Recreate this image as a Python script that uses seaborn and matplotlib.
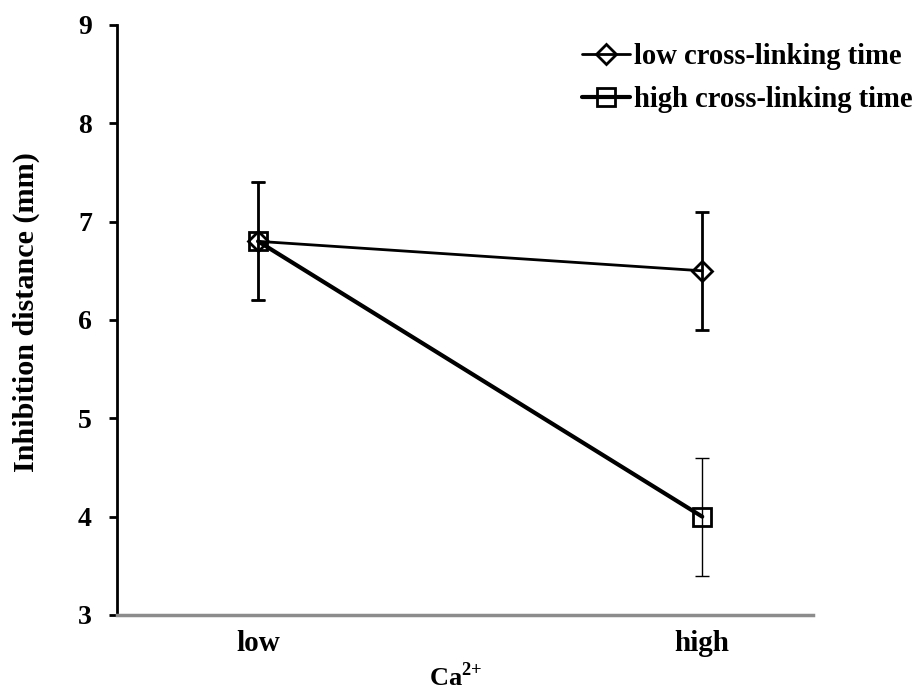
import matplotlib
matplotlib.use("Agg")
import matplotlib.pyplot as plt
import seaborn as sns
import pandas as pd

# Ca2+ levels on the x axis
ca_levels = ["low", "high"]

# Mean inhibition distance (mm) and error for each cross-linking time
low_time_mean = [6.8, 6.5]
low_time_err = [0.6, 0.6]
high_time_mean = [6.8, 4.0]
high_time_err = [0.6, 0.6]

series_names = ["low cross-linking time", "high cross-linking time"]

rows = []
for name, means, errs in [(series_names[0], low_time_mean, low_time_err),
                          (series_names[1], high_time_mean, high_time_err)]:
    for i, (lvl, m, e) in enumerate(zip(ca_levels, means, errs)):
        rows.append({"series": name, "Ca": lvl, "pos": i, "mean": m, "err": e})
df = pd.DataFrame(rows)

sns.set_theme(style="white")
plt.rcParams["font.family"] = ["Liberation Serif", "DejaVu Serif"]
plt.rcParams["font.weight"] = "bold"
plt.rcParams["text.color"] = "black"
plt.rcParams["axes.labelcolor"] = "black"
plt.rcParams["xtick.color"] = "black"
plt.rcParams["ytick.color"] = "black"
plt.rcParams["mathtext.fontset"] = "custom"
plt.rcParams["mathtext.rm"] = "Liberation Serif:bold"
plt.rcParams["mathtext.bf"] = "Liberation Serif:bold"

fig = plt.figure(figsize=(9.2, 6.9), dpi=100)
ax = fig.add_axes([0.127, 0.1087, 0.757, 0.8551])

styles = {
    series_names[0]: dict(marker="D", ms=10, lw=2.0, elw=2.0),
    series_names[1]: dict(marker="s", ms=13, lw=3.0, elw=1.0),
}

for name in series_names:
    sub = df[df["series"] == name]
    st = styles[name]
    ax.errorbar(sub["pos"], sub["mean"], yerr=sub["err"], fmt="none",
                ecolor="black", elinewidth=st["elw"], capsize=5,
                capthick=st["elw"], zorder=2)
    sns.lineplot(data=sub, x="pos", y="mean", ax=ax, color="black",
                 lw=st["lw"], marker=st["marker"], markersize=st["ms"],
                 markerfacecolor="none", markeredgecolor="black",
                 markeredgewidth=2.0, label=name, zorder=3)

ax.set_xlim(-0.318, 1.25)
ax.set_ylim(3, 9)
ax.set_yticks(range(3, 10))
ax.set_xticks(range(len(ca_levels)))
ax.set_xticklabels(ca_levels)

for s in ["top", "right"]:
    ax.spines[s].set_visible(False)
ax.spines["left"].set_color("black")
ax.spines["left"].set_linewidth(2.0)
ax.spines["bottom"].set_color("#8c8c8c")
ax.spines["bottom"].set_linewidth(2.5)

ax.tick_params(axis="y", which="major", direction="out", length=6, width=2,
               color="black", labelsize=20, pad=12, left=True)
ax.tick_params(axis="x", which="major", length=0, labelsize=21, pad=11)
for lab in ax.get_xticklabels() + ax.get_yticklabels():
    lab.set_fontweight("bold")

ax.set_xlabel(r"Ca$^{\mathbf{2}{\mathbf{+}}}$", fontsize=19, fontweight="bold")
ax.xaxis.set_label_coords(0.487, -0.080)
ax.set_ylabel("Inhibition distance (mm)", fontsize=21.7, fontweight="bold")
ax.yaxis.set_label_coords(-0.11, 0.513)

leg = ax.legend(loc="upper left", bbox_to_anchor=(582 / 920, 1 - 43 / 690),
                bbox_transform=fig.transFigure, frameon=False,
                fontsize=20.6, handlelength=1.68, handletextpad=0.15,
                labelspacing=0.55, borderaxespad=0, borderpad=0)
for t in leg.get_texts():
    t.set_fontweight("bold")

fig.savefig("out.png", dpi=100)
